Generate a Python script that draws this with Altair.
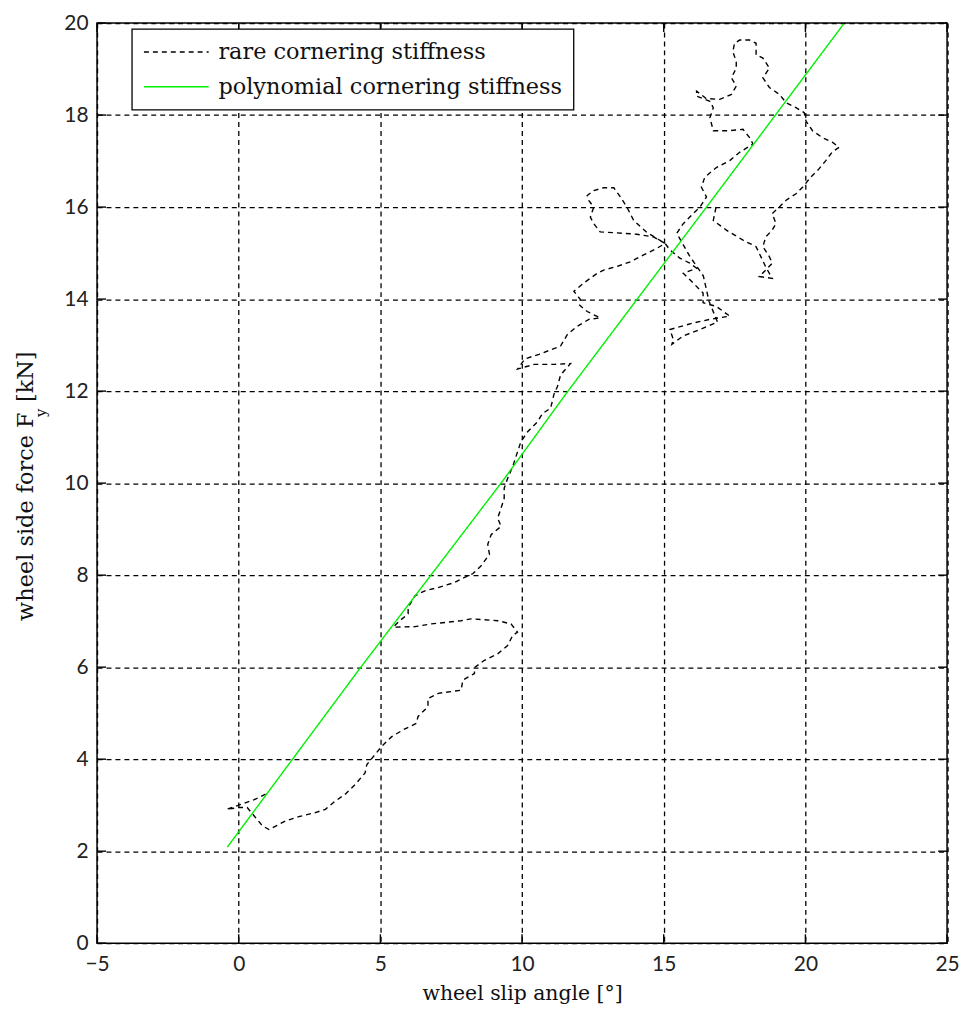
import altair as alt
import pandas as pd

# ---- data ----
rare_x = [0.95, 0.55, 0.19, -0.43, 0.02, 0.3, 0.54, 0.84, 1.07, 1.66, 2.12, 2.71, 3.06, 3.41, 3.76,
          4.11, 4.46, 4.52, 4.81, 5.05, 5.40, 5.81, 6.27, 6.33, 6.68, 6.68, 7.04, 7.85, 7.91, 8.32,
          8.32, 8.67, 9.14, 9.49, 9.67, 9.84, 9.61, 9.14, 8.20, 7.85, 6.80, 6.22, 5.46, 5.63, 5.98,
          5.98, 6.22, 6.57, 7.04, 7.62, 7.97, 8.26, 8.55, 8.85, 8.79, 8.91, 9.26, 9.14, 9.26, 9.37,
          9.37, 9.49, 9.67, 9.84, 9.96, 10.19, 10.54, 10.72, 11.01, 11.13, 11.25, 11.36, 11.71, 11.13,
          10.43, 9.84, 10.1, 10.6, 11.36, 11.6, 11.95, 12.36, 12.76, 12.3, 12.01, 12.06, 11.83, 12.18,
          12.65, 12.88, 13.35, 13.82, 14.29, 14.75, 15.05, 14.64, 14.05, 13.35, 12.76, 12.53, 12.41,
          12.53, 12.36, 12.3, 12.53, 12.88, 13.24, 13.47, 13.7, 13.94, 14.4, 15.05, 15.22, 15.57,
          15.92, 16.16, 15.69, 16.04, 16.39, 16.39, 16.86, 17.33, 16.63, 16.04, 15.46, 15.22, 15.34,
          15.29, 15.69, 16.28, 16.9, 16.6, 16.4, 15.9, 15.46, 15.69, 16.04, 16.28, 16.51, 16.33,
          16.45, 16.86, 17.33, 17.68, 18.15, 18.03, 17.8, 17.33, 16.75, 16.63, 16.75, 16.63, 16.16,
          16.16, 16.5, 16.98, 17.39, 17.56, 17.39, 17.56, 17.56, 17.44, 17.5, 17.68, 18.03, 18.26,
          18.26, 18.5, 18.73, 18.5, 18.73, 19.08, 19.32, 19.67, 19.96, 20.02, 20.25, 20.6, 20.95,
          21.19, 20.95, 20.72, 20.48, 20.19, 19.9, 19.67, 19.32, 19.08, 18.83, 18.96, 18.83, 18.6,
          18.5, 18.73, 18.83, 18.6, 18.37, 18.83, 18.6, 18.26, 17.8, 17.21, 16.75, 16.86]
rare_y = [3.24, 3.12, 3.04, 2.91, 2.95, 2.95, 2.77, 2.55, 2.47, 2.66, 2.75, 2.84, 2.91, 3.09, 3.24,
          3.45, 3.70, 3.88, 4.10, 4.28, 4.49, 4.64, 4.78, 4.93, 5.14, 5.32, 5.43, 5.50, 5.72, 5.86,
          5.99, 6.15, 6.29, 6.47, 6.69, 6.76, 6.94, 7.01, 7.05, 7.01, 6.94, 6.88, 6.87, 6.98, 7.16,
          7.30, 7.55, 7.66, 7.73, 7.84, 7.95, 8.03, 8.20, 8.45, 8.67, 8.88, 9.06, 9.24, 9.46, 9.67,
          9.89, 10.10, 10.36, 10.68, 10.90, 11.11, 11.33, 11.51, 11.63, 11.94, 12.1, 12.35, 12.6, 12.58,
          12.58, 12.48, 12.7, 12.8, 12.98, 13.23, 13.41, 13.56, 13.59, 13.73, 13.88, 13.99, 14.17, 14.35,
          14.56, 14.63, 14.71, 14.81, 14.96, 15.10, 15.21, 15.35, 15.41, 15.44, 15.46, 15.64, 15.78,
          16.0, 16.14, 16.25, 16.36, 16.42, 16.42, 16.22, 16.0, 15.71, 15.45, 15.21, 15.07, 14.89,
          14.78, 14.67, 14.56, 14.35, 14.13, 13.92, 13.84, 13.63, 13.56, 13.48, 13.38, 13.34, 13.12,
          13.02, 13.2, 13.34, 13.5, 13.95, 14.5, 14.95, 15.43, 15.64, 15.86, 16.0, 16.22, 16.43,
          16.65, 16.86, 17.01, 17.19, 17.37, 17.51, 17.69, 17.66, 17.66, 17.94, 18.16, 18.3, 18.41,
          18.52, 18.36, 18.34, 18.45, 18.63, 18.81, 19.02, 19.16, 19.38, 19.56, 19.63, 19.63, 19.56,
          19.31, 19.24, 19.02, 18.81, 18.6, 18.45, 18.27, 18.16, 18.05, 17.87, 17.66, 17.51, 17.41,
          17.3, 17.2, 17.01, 16.83, 16.65, 16.43, 16.29, 16.15, 16.0, 15.86, 15.64, 15.5, 15.35,
          15.14, 14.92, 14.78, 14.63, 14.49, 14.45, 14.7, 15.14, 15.28, 15.5, 15.71, 16.04]

poly_x = [-0.4, 4.31, 9.32, 11.62, 16.51, 21.35]
poly_y = [2.09, 6.0, 10.05, 12.0, 16.0, 19.98]

series_names = ["rare cornering stiffness", "polynomial cornering stiffness"]
x_ticks = [-5, 0, 5, 10, 15, 20, 25]
y_ticks = [0, 2, 4, 6, 8, 10, 12, 14, 16, 18, 20]

W, H = 854.5, 925

rows = []
for i, (a, b) in enumerate(zip(rare_x, rare_y)):
    rows.append({"series": series_names[0], "x": a, "y": b, "o": i})
for i, (a, b) in enumerate(zip(poly_x, poly_y)):
    rows.append({"series": series_names[1], "x": a, "y": b, "o": i})
df = pd.DataFrame(rows)

xscale = alt.Scale(domain=[-5, 25], nice=False, zero=False)
yscale = alt.Scale(domain=[0, 20], nice=False, zero=False)

leg = alt.Legend(title=None, orient="none", legendX=35, legendY=6)
lines = alt.Chart(df).mark_line(strokeWidth=1.4, clip=True).encode(
    x=alt.X("x:Q", scale=xscale,
            axis=alt.Axis(values=x_ticks, grid=True, title="wheel slip angle [°]")),
    y=alt.Y("y:Q", scale=yscale,
            axis=alt.Axis(values=y_ticks, grid=True, title=None)),
    order="o:Q",
    color=alt.Color("series:N",
                    scale=alt.Scale(domain=series_names, range=["#000000", "#00f000"]),
                    legend=leg),
    strokeDash=alt.StrokeDash("series:N",
                              scale=alt.Scale(domain=series_names, range=[[5, 4], [1, 0]]),
                              legend=leg),
)

xt = pd.DataFrame({"v": x_ticks})
yt = pd.DataFrame({"v": y_ticks})
tick_bottom = alt.Chart(xt).mark_rule(color="black", strokeWidth=1.4).encode(
    x=alt.X("v:Q", scale=xscale), y=alt.value(H), y2=alt.value(H - 9))
tick_top = alt.Chart(xt).mark_rule(color="black", strokeWidth=1.4).encode(
    x=alt.X("v:Q", scale=xscale), y=alt.value(0), y2=alt.value(9))
tick_left = alt.Chart(yt).mark_rule(color="black", strokeWidth=1.4).encode(
    y=alt.Y("v:Q", scale=yscale), x=alt.value(0), x2=alt.value(9))
tick_right = alt.Chart(yt).mark_rule(color="black", strokeWidth=1.4).encode(
    y=alt.Y("v:Q", scale=yscale), x=alt.value(W), x2=alt.value(W - 9))

# y-axis title with subscript
tfont = "DejaVu Serif"
ymain = alt.Chart(pd.DataFrame({"t": ["wheel side force F"]})).mark_text(
    angle=270, align="left", baseline="alphabetic", font=tfont, fontSize=22.5, color="#111111"
).encode(text="t:N", x=alt.value(-64.5), y=alt.value(601))
ysub = alt.Chart(pd.DataFrame({"t": ["y"]})).mark_text(
    angle=270, align="left", baseline="alphabetic", font=tfont, fontSize=15, color="#111111"
).encode(text="t:N", x=alt.value(-51), y=alt.value(396))
yunit = alt.Chart(pd.DataFrame({"t": ["[kN]"]})).mark_text(
    angle=270, align="left", baseline="alphabetic", font=tfont, fontSize=22.5, color="#111111"
).encode(text="t:N", x=alt.value(-64.5), y=alt.value(381))

chart = alt.layer(
    tick_bottom, tick_top, tick_left, tick_right, lines, ymain, ysub, yunit
).properties(
    width=W, height=H,
    autosize=alt.AutoSizeParams(type="none"),
    padding={"left": 89.5, "top": 12.5, "right": 12, "bottom": 60},
    background="white",
).configure_view(
    stroke="black", strokeWidth=1.5
).configure_axis(
    domain=False, ticks=False, labelFlush=False,
    grid=True, gridColor="black", gridDash=[5, 4], gridWidth=1.3, gridOpacity=1,
    labelFont="Lato", labelFontSize=21, labelColor="#222222",
    titleFont=tfont, titleFontSize=20.5, titleFontWeight="normal", titleColor="#111111",
).configure_axisX(
    labelPadding=10, titlePadding=10,
).configure_axisY(
    labelPadding=9,
).configure_legend(
    fillColor="white", strokeColor="black", strokeWidth=1.3, padding=11, cornerRadius=0,
    symbolType="M-1,0H5", symbolSize=470, symbolStrokeWidth=1.5,
    labelFont=tfont, labelFontSize=22.5, labelColor="#111111", labelOffset=52, labelLimit=0,
    rowPadding=11,
)

chart.save("out.html", embed_options={"renderer": "svg", "actions": False})
